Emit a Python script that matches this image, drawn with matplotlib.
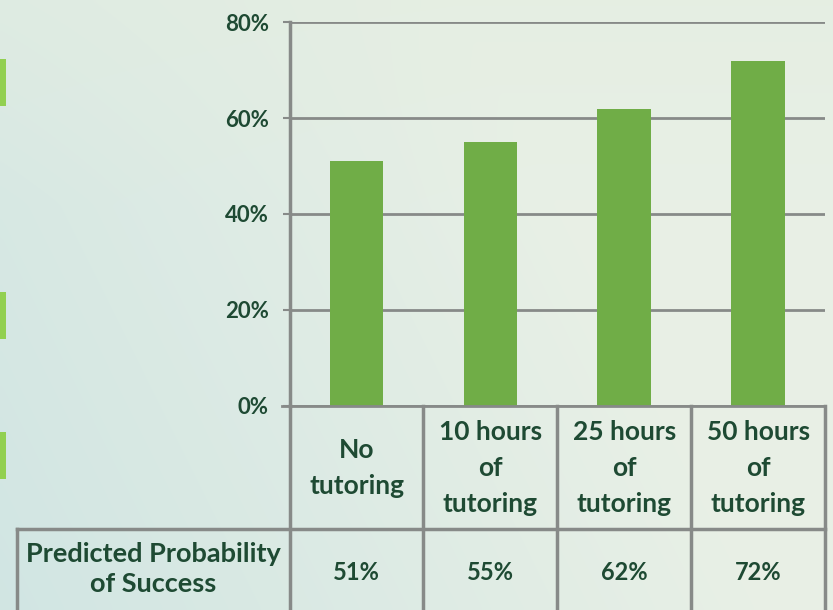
import matplotlib
matplotlib.use("Agg")
import matplotlib.pyplot as plt
import numpy as np
from matplotlib.patches import Rectangle
from matplotlib.transforms import blended_transform_factory

# ---------------- data ----------------
categories = ["No\ntutoring", "10 hours\nof\ntutoring", "25 hours\nof\ntutoring", "50 hours\nof\ntutoring"]
probabilities = [51, 55, 62, 72]
value_labels = ["51%", "55%", "62%", "72%"]
row_label = "Predicted Probability\nof Success"
y_ticks = [0, 20, 40, 60, 80]
y_tick_labels = ["0%", "20%", "40%", "60%", "80%"]

# ---------------- style ----------------
W, H = 833, 610
TEXT = "#1E4A33"
GRID = "#878A88"
BAR = "#70AD47"
FONT = ["Lato", "DejaVu Sans"]

fig = plt.figure(figsize=(W / 100, H / 100), dpi=100)

def fx(x):
    return x / W

def fy(y):
    return 1 - y / H

# background gradient (decorative)
bg = fig.add_axes([0, 0, 1, 1], zorder=-10)
nx, ny = 200, 150
xx, yy = np.meshgrid(np.linspace(0, 1, nx), np.linspace(0, 1, ny))
left_col = np.array([0.82, 0.90, 0.89])
right_col = np.array([0.91, 0.94, 0.90])
top_col = np.array([0.89, 0.93, 0.88])
t = np.clip(xx * 1.1 + (1 - yy) * 0.4, 0, 1)[..., None]
img = left_col * (1 - t) + right_col * t
w_top = np.clip(1 - yy * 3, 0, 1)[..., None] * 0.5
img = img * (1 - w_top) + top_col * w_top
bg.imshow(img, extent=[0, W, H, 0], aspect="auto", interpolation="bicubic")
bg.set_xlim(0, W)
bg.set_ylim(H, 0)
bg.axis("off")

# left decorative green strips
for (y0, y1) in [(59, 106), (292, 339), (432, 479)]:
    bg.add_patch(Rectangle((0, y0), 6, y1 - y0, color="#92D050", lw=0))

# ---------------- bar chart ----------------
ax_left, ax_right = 289.6, 825.0
ax_top, ax_bottom = 22.2, 405.8
ax = fig.add_axes([fx(ax_left), fy(ax_bottom), (ax_right - ax_left) / W, (ax_bottom - ax_top) / H])
ax.patch.set_alpha(0)
x = np.arange(len(probabilities))
ax.bar(x, probabilities, width=0.4, color=BAR, zorder=3)
ax.set_xlim(-0.5, len(probabilities) - 0.5)
ax.set_ylim(0, 80)
ax.set_yticks(y_ticks)
ax.set_yticklabels(y_tick_labels)
ax.yaxis.grid(True, color=GRID, lw=2)
ax.set_axisbelow(True)
for s in ["top", "right", "bottom"]:
    ax.spines[s].set_visible(False)
ax.spines["left"].set_color(GRID)
ax.spines["left"].set_linewidth(2.5)
ax.set_xticks([])
ax.tick_params(axis="y", length=5, width=1.5, color=GRID, pad=10, labelcolor=TEXT)
for lab in ax.get_yticklabels():
    lab.set_fontfamily(FONT)
    lab.set_fontweight("bold")
    lab.set_fontsize(16)

# ---------------- table ----------------
ov = fig.add_axes([0, 0, 1, 1], zorder=5)
ov.set_xlim(0, W)
ov.set_ylim(H, 0)
ov.axis("off")
col_tr = blended_transform_factory(ax.transData, ov.transData)

header_top, header_bottom, table_bottom = 405.8, 529.0, 612.0
lw = 2.5
# verticals
for xb in np.arange(-0.5, len(categories), 1.0):
    ov.plot([xb, xb], [header_top, table_bottom], color=GRID, lw=lw, transform=col_tr, clip_on=False)
# top line of table
ov.plot([282, ax_right], [header_top, header_top], color=GRID, lw=2, clip_on=False)
# row separator
ov.plot([17.5, ax_right], [header_bottom, header_bottom], color=GRID, lw=lw, clip_on=False)
# row label left border
ov.plot([17.5, 17.5], [header_bottom, table_bottom], color=GRID, lw=lw, clip_on=False)

for i, cat in enumerate(categories):
    ov.text(i, 468, cat, transform=col_tr, ha="center", va="center", fontsize=19,
            family=FONT, fontweight="bold", color=TEXT, linespacing=1.58)
for i, v in enumerate(value_labels):
    ov.text(i, 572, v, transform=col_tr, ha="center", va="center", fontsize=17,
            family=FONT, fontweight="bold", color=TEXT)
ov.text((17.5 + ax_left) / 2, 569, row_label, ha="center", va="center", fontsize=19.5,
        family=FONT, fontweight="bold", color=TEXT, linespacing=1.35)

fig.savefig("out.png", dpi=100)
